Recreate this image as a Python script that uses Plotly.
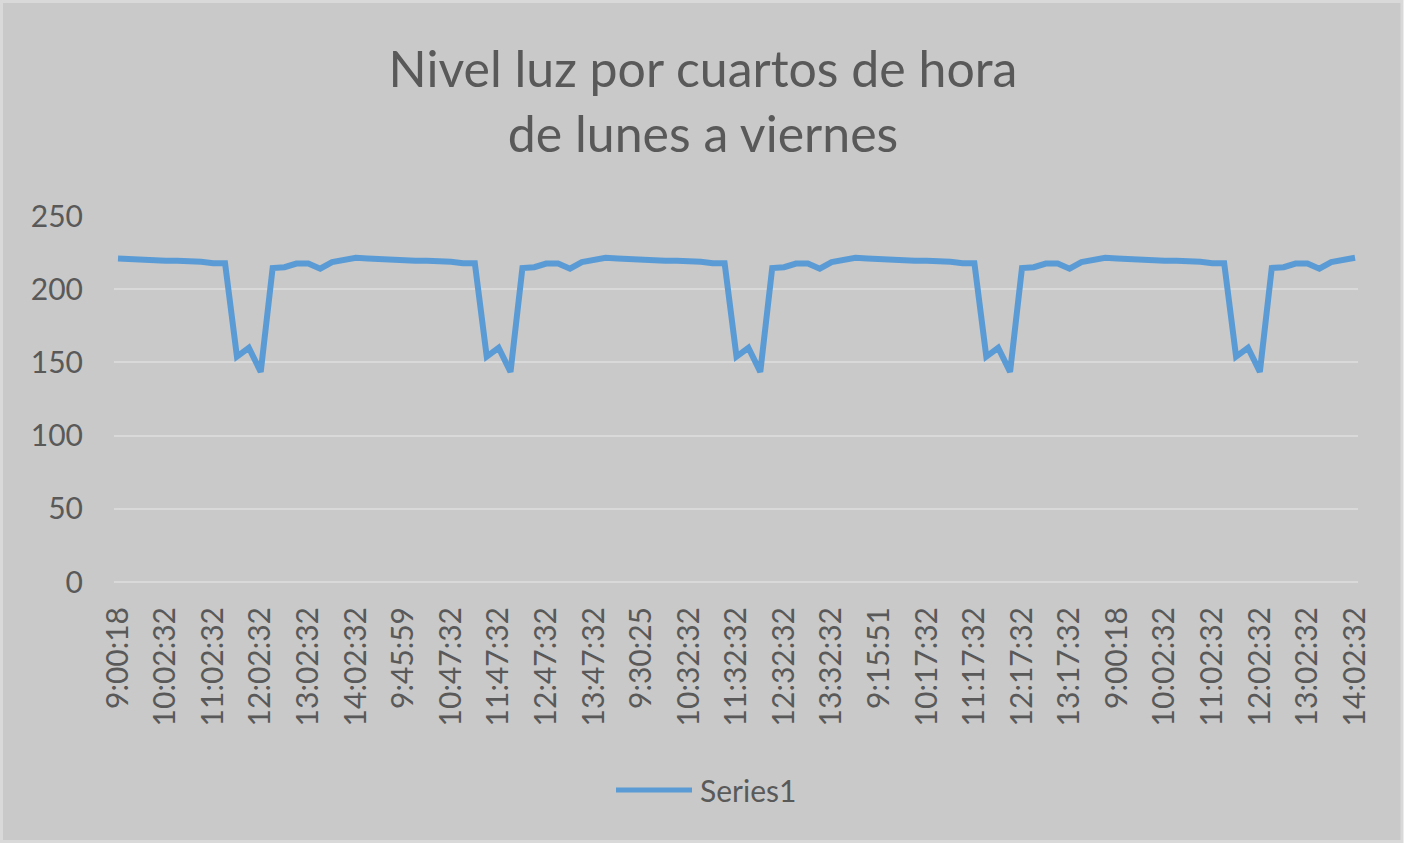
import plotly.graph_objects as go

# Light level sampled every quarter hour, 9:00 to 14:02, one list per weekday
lunes = [221, 220.5, 219.5, 219.5, 219.5, 219.5, 219.5, 218.8, 217.8, 217.8,
         154, 160, 143.5, 214.5, 215, 217.5, 217.5, 214, 218.5, 220, 221.5]
martes = [221, 220.5, 219.5, 219.5, 219.5, 219.5, 219.5, 218.8, 217.8, 217.8,
          154, 160, 143.5, 214.5, 215, 217.5, 217.5, 214, 218.5, 220, 221.5]
miercoles = [221, 220.5, 219.5, 219.5, 219.5, 219.5, 219.5, 218.8, 217.8, 217.8,
             154, 160, 143.5, 214.5, 215, 217.5, 217.5, 214, 218.5, 220, 221.5]
jueves = [221, 220.5, 219.5, 219.5, 219.5, 219.5, 219.5, 218.8, 217.8, 217.8,
          154, 160, 143.5, 214.5, 215, 217.5, 217.5, 214, 218.5, 220, 221.5]
viernes = [221, 220.5, 219.5, 219.5, 219.5, 219.5, 219.5, 218.8, 217.8, 217.8,
           154, 160, 143.5, 214.5, 215, 217.5, 217.5, 214, 218.5, 220, 221.5]

# Hour labels shown on the category axis (every fourth reading)
tick_labels = [
    "9:00:18", "10:02:32", "11:02:32", "12:02:32", "13:02:32", "14:02:32",
    "9:45:59", "10:47:32", "11:47:32", "12:47:32", "13:47:32",
    "9:30:25", "10:32:32", "11:32:32", "12:32:32", "13:32:32",
    "9:15:51", "10:17:32", "11:17:32", "12:17:32", "13:17:32",
    "9:00:18", "10:02:32", "11:02:32", "12:02:32", "13:02:32", "14:02:32",
]
tick_step = 4
y_ticks = [0, 50, 100, 150, 200, 250]

series = lunes + martes + miercoles + jueves + viernes
x_idx = list(range(len(series)))

W, H = 1406, 843
L, R, T, B = 114, 48, 216, 261
PW, PH = W - L - R, H - T - B

BG = "#c9c9c9"
GRID = "#d9d9d9"
TXT = "#595959"
BLUE = "#5b9bd5"
FONT = "Lato, 'Open Sans', sans-serif"


def px_x(p):
    return (p - L) / PW


def px_y(p):
    return 1 - (p - T) / PH


fig = go.Figure()
fig.add_trace(go.Scatter(
    x=x_idx, y=series, mode="lines", name="Series1",
    line=dict(color=BLUE, width=6), showlegend=False,
))

fig.update_layout(
    width=W, height=H,
    margin=dict(l=L, r=R, t=T, b=B),
    paper_bgcolor="white",
    plot_bgcolor="rgba(0,0,0,0)",
    font=dict(family=FONT, color=TXT, size=30),
    title=dict(
        text="Nivel luz por cuartos de hora<br>de lunes a viernes",
        x=0.5, xref="container", xanchor="center",
        y=1 - 87 / H, yref="container", yanchor="top",
        font=dict(family=FONT, size=50, color=TXT),
    ),
    xaxis=dict(
        range=[-0.336, 104.25],
        tickmode="array",
        tickvals=x_idx[::tick_step],
        ticktext=tick_labels,
        tickangle=-90,
        showgrid=False, zeroline=False, showline=False,
        ticks="", ticklabelstandoff=18,
        tickfont=dict(size=30, color=TXT, family=FONT),
    ),
    yaxis=dict(
        range=[0, 250],
        tickmode="array", tickvals=y_ticks,
        showgrid=True, gridcolor=GRID, gridwidth=1.5,
        zeroline=True, zerolinecolor=GRID, zerolinewidth=1.5,
        showline=False, ticks="", ticklabelstandoff=30,
        tickfont=dict(size=30, color=TXT, family=FONT),
    ),
    shapes=[
        # chart area with its light frame
        dict(type="rect", xref="paper", yref="paper", layer="below",
             x0=px_x(1.5), x1=px_x(1402), y0=px_y(841.5), y1=px_y(1.5),
             fillcolor=BG, line=dict(color=GRID, width=3)),
        # legend key line
        dict(type="line", xref="paper", yref="paper",
             x0=px_x(616), x1=px_x(692), y0=px_y(790), y1=px_y(790),
             line=dict(color=BLUE, width=5)),
    ],
    annotations=[
        dict(text="Series1", xref="paper", yref="paper",
             x=px_x(698), y=px_y(790), xanchor="left", yanchor="middle",
             showarrow=False, font=dict(family=FONT, size=30, color=TXT)),
    ],
)

fig.write_html("out.html")
